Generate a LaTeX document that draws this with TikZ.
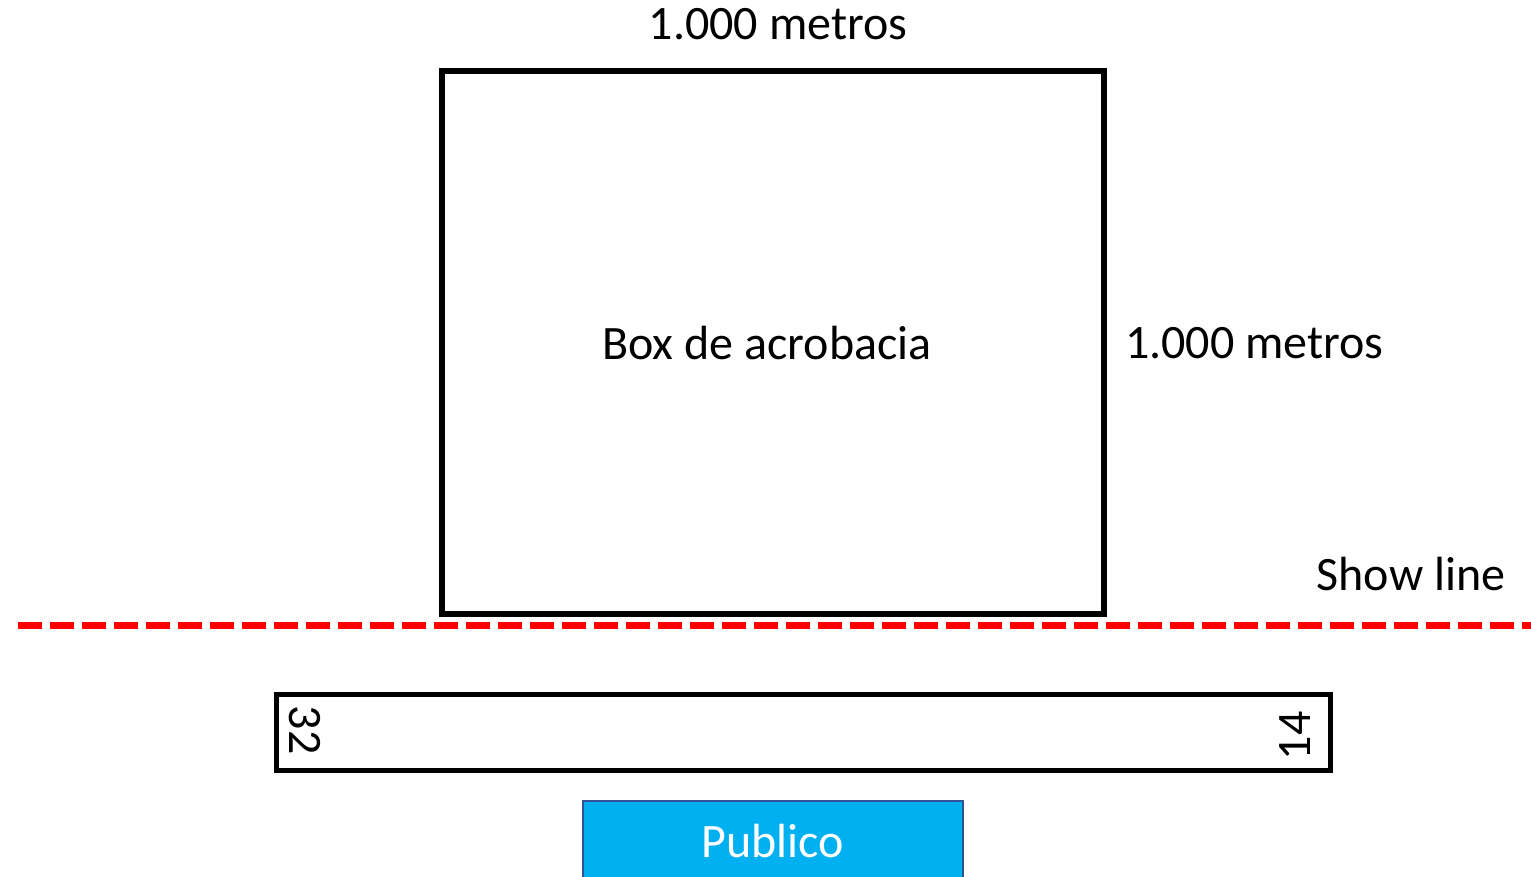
\documentclass[tikz,border=0pt]{standalone}
\usepackage{fontspec}
\setmainfont{Carlito}
\definecolor{pubfill}{HTML}{00B0F0}
\definecolor{pubedge}{HTML}{2F5597}
\begin{document}
\begin{tikzpicture}[x=1pt,y=-1pt,
  txt/.style={font=\fontsize{48}{57}\selectfont, inner sep=0pt},
  frame/.style={draw=black, line width=6pt, inner sep=0pt},
  pubbox/.style={draw=pubedge, line width=2pt, fill=pubfill, text=white, inner sep=0pt, font=\fontsize{48}{57}\selectfont},
  showline/.style={draw=red, line width=7pt, dash pattern=on 24pt off 8pt}]
\useasboundingbox (0,0) rectangle (1531,877);
\begin{scope}
\clip (0,0) rectangle (1531,877);
% acrobatic box
\node[frame, minimum width=662pt, minimum height=543pt] (box) at (773,342.5) {};
\node[txt] (boxlabel) at (767,343) {Box de acrobacia};
\node[txt] (topdim) at (778,24) {1.000 metros};
\node[txt, anchor=west] (rightdim) at (1125,343) {1.000 metros};
% show line
\coordinate (sl1) at (18,625);
\coordinate (sl2) at (1540,625);
\draw[showline] (sl1) -- (sl2);
\node[txt] (showlbl) at (1411,574) {Show line};
% runway
\node[frame, line width=5pt, minimum width=1054pt, minimum height=76pt] (rw) at (803,732) {};
\node[txt, rotate=-90] (r32) at (305,730) {32};
\node[txt, rotate=90] (r14) at (1295,736) {14};
% public
\node[pubbox, minimum width=380pt, minimum height=80pt, anchor=north] (pub) at (773,800) {Publico};
\end{scope}
\end{tikzpicture}
\end{document}
